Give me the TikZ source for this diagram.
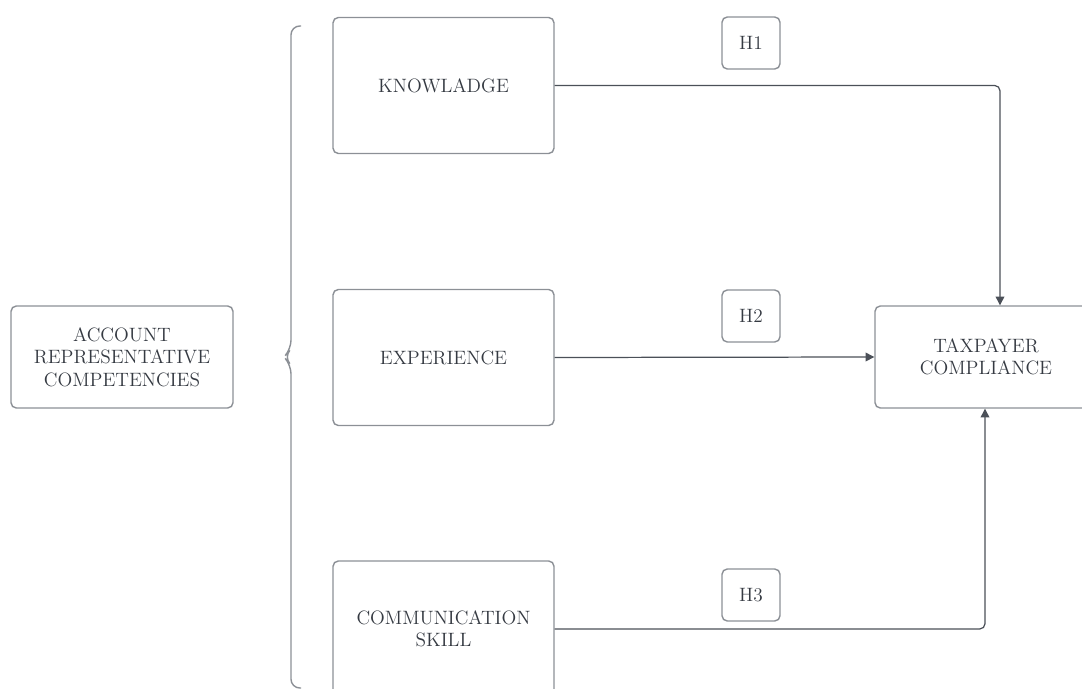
\documentclass[tikz,border=0pt]{standalone}
\usepackage{tikz}
\usetikzlibrary{arrows.meta}
\definecolor{boxline}{HTML}{8C9096}
\definecolor{arrline}{HTML}{4B5058}
\definecolor{txt}{HTML}{353A42}

\begin{document}
\begin{tikzpicture}[x=0.02cm,y=-0.02cm,
	box/.style={draw=boxline,line width=0.8pt,rounded corners=3pt,shape=rectangle,
		inner sep=0pt,align=center,text=txt,font=\fontsize{11}{12.8}\selectfont},
	hbox/.style={box,minimum width=1.16cm,minimum height=1.04cm},
	link/.style={->,>={Triangle[length=5pt,width=5pt]},draw=arrline,line width=0.7pt,rounded corners=3pt}]
	\useasboundingbox (0,0) rectangle (1082,689);
	\clip (0,0) rectangle (1082,689);
	%\draw[help lines,step=50] (0,0) grid (1082,689);

	\node[box,minimum width=4.44cm,minimum height=2.04cm] (acr) at (122,357) {ACCOUNT\\REPRESENTATIVE\\COMPETENCIES};

	% brace
	\draw[boxline,line width=0.8pt,rounded corners=5pt] (301,26) -- (291,26) -- (291,349)
		-- (284,357) -- (291,365) -- (291,688) -- (301,688);

	\node[box,minimum width=4.42cm,minimum height=2.72cm] (know) at (443.5,85.5) {KNOWLADGE};
	\node[box,minimum width=4.42cm,minimum height=2.72cm] (exp) at (443.5,357.5) {EXPERIENCE};
	\node[box,minimum width=4.42cm,minimum height=2.72cm] (comm) at (443.5,629) {COMMUNICATION\\SKILL};

	\node[hbox] (h1) at (751,43) {H1};
	\node[hbox] (h2) at (751,316) {H2};
	\node[hbox] (h3) at (751,595) {H3};

	\node[box,minimum width=4.44cm,minimum height=2.04cm] (tc) at (986,357) {TAXPAYER\\COMPLIANCE};

	\draw[link] (know.east) -| (tc.north -| 1000,0);
	\draw[link] (exp.east) -- (tc.west);
	\draw[link] (comm.east) -| (tc.south -| 985,0);

\end{tikzpicture}
\end{document}
